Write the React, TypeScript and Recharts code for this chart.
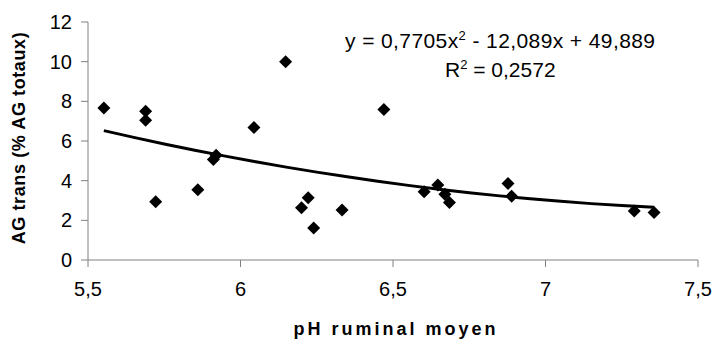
import React from 'react';
import { ScatterChart, Scatter, XAxis, YAxis } from 'recharts';

// Mean ruminal pH per observation
const phValues = [
  5.552, 5.689, 5.689, 5.722, 5.86, 5.911, 5.92, 6.044, 6.148, 6.2, 6.222, 6.24,
  6.333, 6.47, 6.602, 6.647, 6.67, 6.685, 6.877, 6.889, 7.291, 7.356,
];
// Trans fatty acids (% of total fatty acids)
const transValues = [
  7.67, 7.5, 7.05, 2.94, 3.54, 5.07, 5.28, 6.68, 10.0, 2.63, 3.14, 1.61,
  2.52, 7.59, 3.44, 3.78, 3.32, 2.9, 3.86, 3.22, 2.47, 2.4,
];

// Quadratic trend: y = a x^2 + b x + c
const trendCoefs = [0.7705, -12.089, 49.889];
const trendX = [
  5.552, 5.65, 5.75, 5.85, 5.95, 6.05, 6.15, 6.25, 6.35, 6.45, 6.55, 6.65,
  6.75, 6.85, 6.95, 7.05, 7.15, 7.25, 7.356,
];

const xTicks = [5.5, 6, 6.5, 7, 7.5];
const yTicks = [0, 2, 4, 6, 8, 10, 12];

const points = phValues.map((x, i) => ({ x, y: transValues[i] }));
const trend = trendX.map((x) => ({
  x,
  y: trendCoefs[0] * x * x + trendCoefs[1] * x + trendCoefs[2],
}));

const FONT = '"Liberation Sans", Arial, sans-serif';
const AXIS_GRAY = '#808080';

const Diamond = (props: any) => {
  const { cx, cy } = props;
  if (cx == null || cy == null) return null;
  const r = 6.5;
  return (
    <polygon
      points={`${cx},${cy - r} ${cx + r},${cy} ${cx},${cy + r} ${cx - r},${cy}`}
      fill="#000"
    />
  );
};

const NoDot = () => null;

const fmt = (v: number) => String(v).replace('.', ',');

const supStyle: React.CSSProperties = { fontSize: 13, verticalAlign: 8, lineHeight: 0 };

export default function App() {
  return (
    <div
      style={{
        position: 'absolute',
        left: 0,
        top: 0,
        width: 717,
        height: 345,
        background: '#fff',
        fontFamily: FONT,
      }}
    >
      <ScatterChart
        width={717}
        height={345}
        margin={{ top: 22, right: 19, bottom: 55, left: 0 }}
      >
        <XAxis
          type="number"
          dataKey="x"
          domain={[5.5, 7.5]}
          ticks={xTicks}
          tickFormatter={fmt}
          height={30}
          stroke={AXIS_GRAY}
          tickSize={7}
          tickMargin={15}
          tick={{ fill: '#000', fontSize: 20, fontFamily: FONT }}
          allowDataOverflow
        />
        <YAxis
          type="number"
          dataKey="y"
          domain={[0, 12]}
          ticks={yTicks}
          width={88}
          stroke={AXIS_GRAY}
          tickSize={7}
          tickMargin={9}
          tick={{ fill: '#000', fontSize: 20, fontFamily: FONT }}
          allowDataOverflow
        />
        <Scatter
          data={trend}
          line={{ stroke: '#000', strokeWidth: 3 }}
          lineType="joint"
          shape={NoDot}
          isAnimationActive={false}
        />
        <Scatter data={points} shape={Diamond} isAnimationActive={false} />
      </ScatterChart>

      {/* Y axis title */}
      <div
        style={{
          position: 'absolute',
          left: 19,
          top: 138,
          transform: 'translate(-50%, -50%) rotate(-90deg)',
          whiteSpace: 'nowrap',
          fontWeight: 'bold',
          fontSize: 18,
          letterSpacing: 0.6,
        }}
      >
        AG trans (% AG totaux)
      </div>

      {/* X axis title */}
      <div
        style={{
          position: 'absolute',
          left: 396,
          top: 319,
          transform: 'translateX(-50%)',
          whiteSpace: 'nowrap',
          fontWeight: 'bold',
          fontSize: 18,
          letterSpacing: 3,
        }}
      >
        pH ruminal moyen
      </div>

      {/* Trend equation */}
      <div
        style={{
          position: 'absolute',
          left: 345,
          top: 30,
          whiteSpace: 'nowrap',
          fontSize: 21,
          lineHeight: '21px',
          letterSpacing: 0.4,
        }}
      >
        y = 0,7705x<sup style={supStyle}>2</sup> - 12,089x + 49,889
      </div>
      <div
        style={{
          position: 'absolute',
          left: 445,
          top: 59,
          whiteSpace: 'nowrap',
          fontSize: 21,
          lineHeight: '21px',
        }}
      >
        R<sup style={supStyle}>2</sup> = 0,2572
      </div>
    </div>
  );
}
